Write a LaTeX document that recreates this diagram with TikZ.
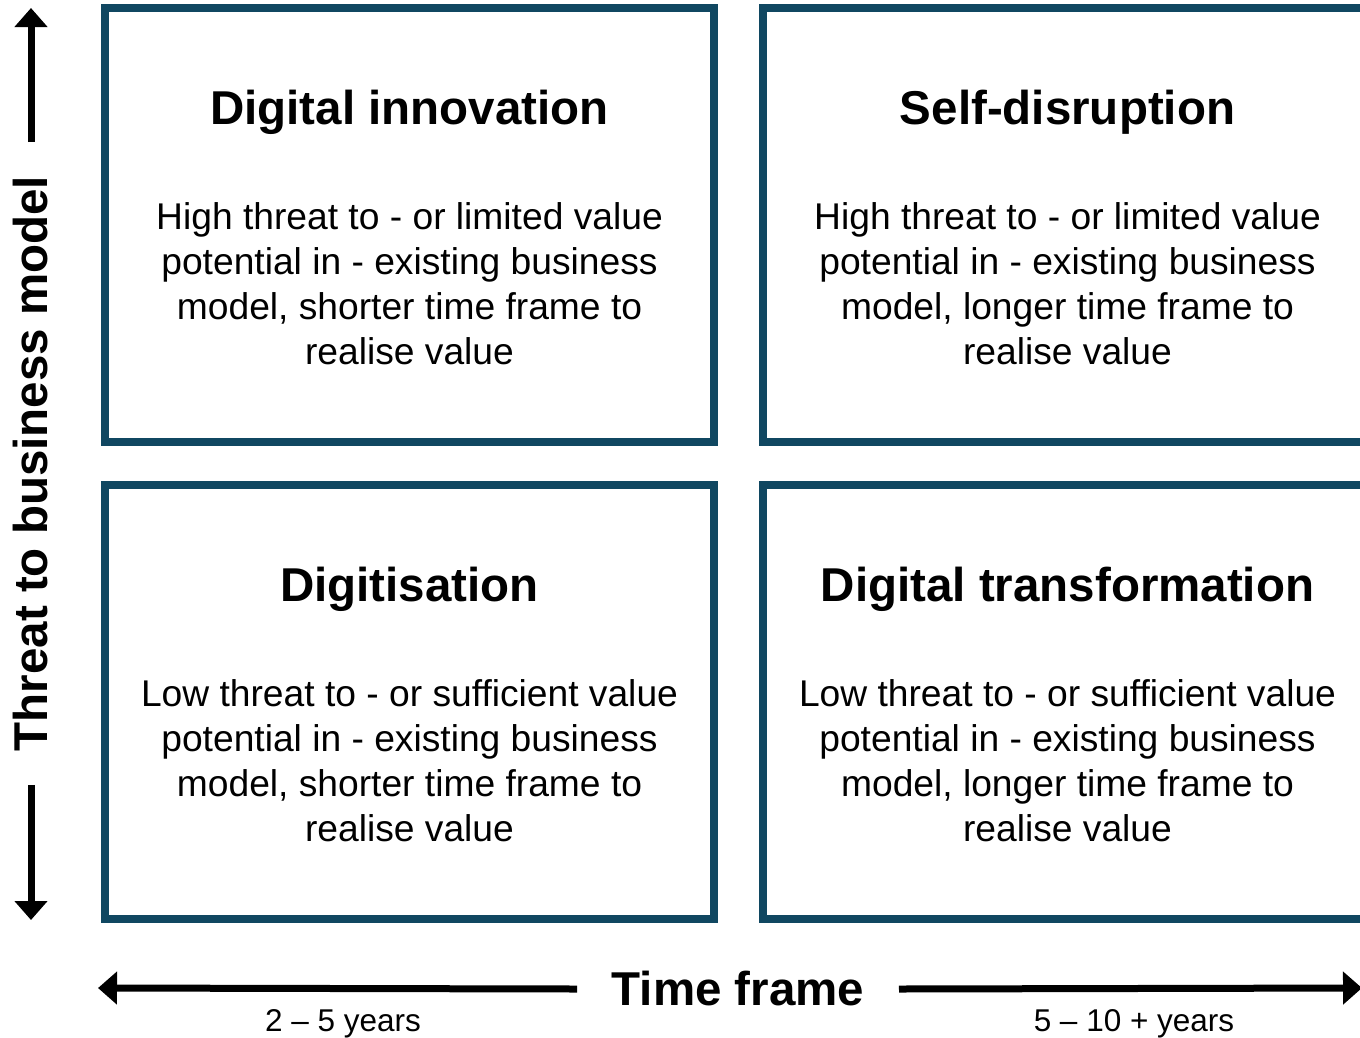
\documentclass[tikz,border=0pt]{standalone}
\usepackage{fontspec}
\setmainfont{Liberation Sans}
\usetikzlibrary{arrows.meta}
\definecolor{quadblue}{RGB}{16,71,97}
\begin{document}
\begin{tikzpicture}[x=1pt,y=-1pt,>={Triangle[length=19pt,width=32pt]},
  quad/.style={draw=quadblue,line width=7.5pt,minimum width=609pt,minimum height=434pt,inner sep=0pt},
  head/.style={anchor=base,font=\fontsize{47.5}{57}\selectfont\bfseries},
  body/.style={align=center,font=\fontsize{37.2}{45}\selectfont},
  years/.style={anchor=base,font=\fontsize{31.5}{38}\selectfont},
  axis/.style={->,line width=7pt}]
\useasboundingbox(0,0)rectangle(1360,1037);
\clip(0,0)rectangle(1360,1037);
% quadrants
\node[quad](di)at(409.5,225){};
\node[quad](sd)at(1067.5,225){};
\node[quad](dg)at(409.5,702){};
\node[quad](dt)at(1067.5,702){};
\node[head]at([yshift=-120pt]di.north){Digital innovation};
\node[head]at([yshift=-120pt]sd.north){Self-disruption};
\node[head]at([yshift=-120pt]dg.north){Digitisation};
\node[head]at([yshift=-120pt]dt.north){Digital transformation};
\node[body]at([yshift=-59pt]di){High threat to - or limited value\\potential in - existing business\\model, shorter time frame to\\realise value};
\node[body]at([yshift=-59pt]sd){High threat to - or limited value\\potential in - existing business\\model, longer time frame to\\realise value};
\node[body]at([yshift=-59pt]dg){Low threat to - or sufficient value\\potential in - existing business\\model, shorter time frame to\\realise value};
\node[body]at([yshift=-59pt]dt){Low threat to - or sufficient value\\potential in - existing business\\model, longer time frame to\\realise value};
% axes
\node[head,anchor=center,rotate=90,inner xsep=33.5pt](thr)at(31,463.5){Threat to business model};
\coordinate(up)at(31,8);
\coordinate(down)at(31,920);
\draw[axis](thr.east)--(up);
\draw[axis](thr.west)--(down);
\node[head,anchor=center,inner xsep=34.5pt](tf)at(738,989){Time frame};
\coordinate(left)at(98,988);
\coordinate(right)at(1362,988);
\draw[axis](tf.west)--(left);
\draw[axis](tf.east)--(right);
\node[years](short)at(343,1031){2 -- 5 years};
\node[years](long)at(1134,1031){5 -- 10 + years};
\end{tikzpicture}
\end{document}
